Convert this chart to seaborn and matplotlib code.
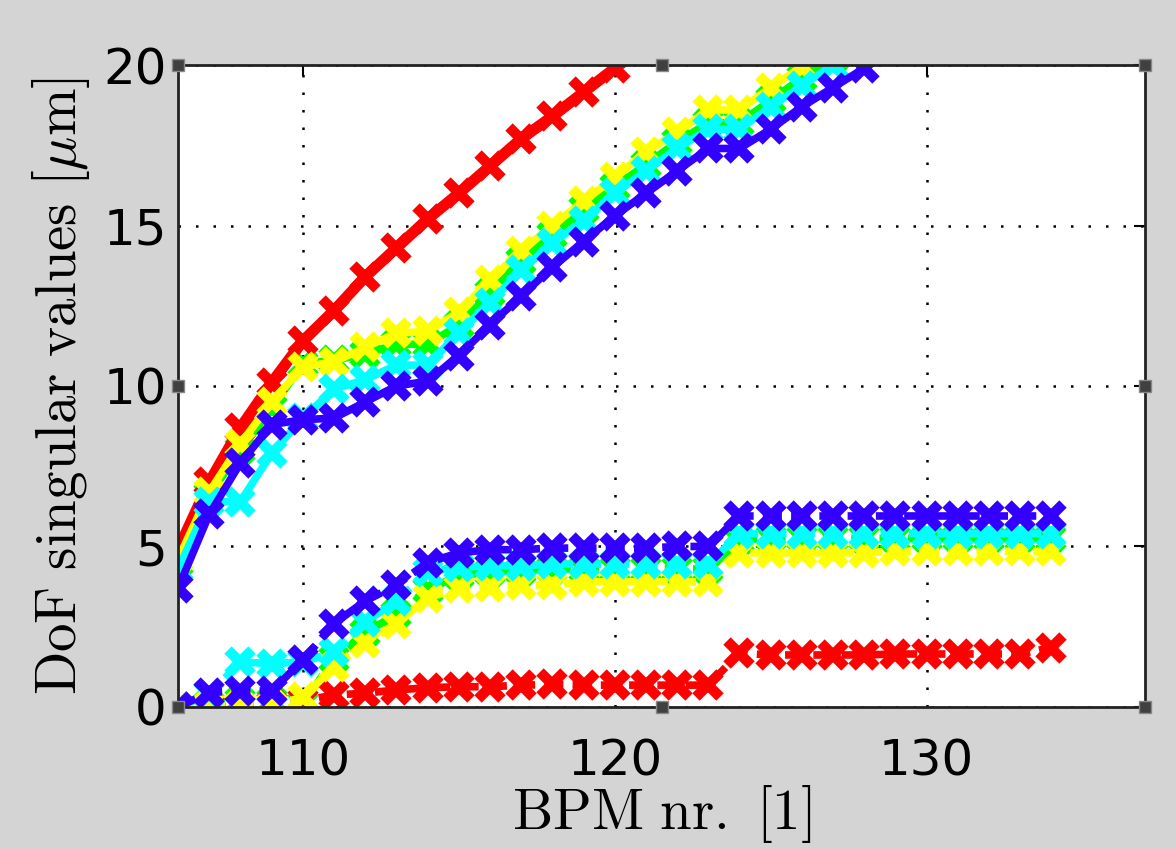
import numpy as np
import pandas as pd
import matplotlib
matplotlib.use("Agg")
import matplotlib.pyplot as plt
import seaborn as sns

sns.set_style("white")
plt.rcParams["mathtext.fontset"] = "cm"
plt.rcParams["font.family"] = ["DejaVu Sans"]

# BPM numbers
bpm = list(range(106, 135))

# upper (solid) curves, leave the view above 20
upper_red = [4.9, 7.0, 8.7, 10.1, 11.4, 12.35, 13.4, 14.3, 15.2, 16.0, 16.85, 17.7, 18.4, 19.15, 19.9, 20.6]
upper_yellow = [4.6, 6.7, 8.2, 9.5, 10.6, 10.75, 11.2, 11.65, 11.7, 12.3, 13.3, 14.2, 15.0, 15.75, 16.5, 17.3,
                17.9, 18.6, 18.6, 19.3, 19.95, 20.6]
upper_green = [4.5, 6.6, 8.0, 9.3, 10.7, 10.8, 11.0, 11.3, 11.3, 11.9, 12.9, 13.9, 14.7, 15.5, 16.2, 16.9,
               17.6, 18.2, 18.2, 18.9, 19.6, 20.2, 20.8]
upper_cyan = [4.3, 6.4, 6.4, 7.9, 9.0, 9.9, 10.2, 10.65, 10.65, 11.65, 12.6, 13.6, 14.45, 15.15, 16.0, 16.7,
              17.4, 18.0, 18.0, 18.7, 19.35, 20.0, 20.6]
upper_blue = [3.7, 6.0, 7.6, 8.8, 8.95, 9.0, 9.5, 10.0, 10.15, 10.95, 11.9, 12.8, 13.7, 14.5, 15.3, 16.0,
              16.7, 17.4, 17.4, 18.0, 18.7, 19.3, 19.9, 20.5]

# lower (dashed) curves
lower_red = [0.0, 0.0, 0.0, 0.1, 0.2, 0.37, 0.43, 0.53, 0.6, 0.63, 0.63, 0.68, 0.7, 0.68, 0.68, 0.68, 0.68, 0.68,
             1.68, 1.62, 1.62, 1.62, 1.62, 1.65, 1.65, 1.65, 1.65, 1.65, 1.85]
lower_yellow = [0.0, 0.05, 0.05, 0.05, 0.3, 1.25, 2.0, 2.6, 3.4, 3.7, 3.75, 3.8, 3.8, 3.9, 3.9, 3.9, 3.9, 3.9,
                4.8, 4.8, 4.8, 4.8, 4.8, 4.85, 4.85, 4.85, 4.85, 4.85, 4.85]
lower_green = [0.0, 0.1, 0.2, 0.2, 0.1, 1.5, 2.3, 2.9, 3.65, 4.1, 4.2, 4.25, 4.3, 4.3, 4.3, 4.3, 4.3, 4.3,
               5.2, 5.25, 5.25, 5.25, 5.25, 5.25, 5.25, 5.25, 5.25, 5.25, 5.25]
lower_cyan = [0.0, 0.4, 1.4, 1.35, 1.4, 1.7, 2.65, 3.3, 4.2, 4.35, 4.4, 4.4, 4.45, 4.45, 4.45, 4.45, 4.45, 4.45,
              5.4, 5.4, 5.4, 5.4, 5.4, 5.4, 5.4, 5.4, 5.4, 5.4, 5.4]
lower_blue = [0.0, 0.45, 0.5, 0.5, 1.45, 2.6, 3.3, 3.8, 4.5, 4.8, 4.9, 4.9, 4.95, 4.95, 4.95, 4.95, 5.0, 5.0,
              5.95, 5.95, 5.95, 5.95, 5.95, 5.95, 5.95, 5.95, 5.95, 5.95, 5.95]

colors = {"red": "#ff0000", "yellow": "#ffff00", "green": "#00ff00", "cyan": "#00ffff", "blue": "#3300ff"}
upper = {"green": upper_green, "red": upper_red, "yellow": upper_yellow, "cyan": upper_cyan, "blue": upper_blue}
lower = {"green": lower_green, "red": lower_red, "yellow": lower_yellow, "cyan": lower_cyan, "blue": lower_blue}

fig = plt.figure(figsize=(11.76, 8.49), dpi=100, facecolor="#d4d4d4")
ax = fig.add_axes([0.1514, 0.1673, 0.8222, 0.7561])
ax.set_facecolor("white")

for name, vals in upper.items():
    lw = 8 if name == "red" else 5.5
    sns.lineplot(x=bpm[:len(vals)], y=vals, ax=ax, color=colors[name], lw=lw, marker="x",
                 markersize=17, mew=7.5, mec=colors[name], estimator=None, sort=False)
for name, vals in lower.items():
    sns.lineplot(x=bpm, y=vals, ax=ax, color=colors[name], lw=5.5, marker="x", dashes=(2.5, 1.2),
                 markersize=17, mew=7.5, mec=colors[name], estimator=None, sort=False)

ax.set_xlim(106, 137)
ax.set_ylim(0, 20)
ax.set_xticks([110, 120, 130])
ax.set_yticks([0, 5, 10, 15, 20])
ax.grid(True, color="black", ls=(0, (1, 6)), lw=1.8)
ax.tick_params(direction="in", length=8, width=1.5, top=True, right=True, labelsize=36, colors="black")
ax.tick_params(axis="x", pad=22)
ax.tick_params(axis="y", pad=8)
for s in ax.spines.values():
    s.set_color("#222222")
    s.set_linewidth(2)

ax.set_xlabel(r"$\mathrm{BPM\ nr.\ [1]}$", fontsize=41, labelpad=-2, color="black")
ax.set_ylabel(r"$\mathrm{DoF\ singular\ values}\ [\mu\mathrm{m}]$", fontsize=41, labelpad=8, color="black")

# selection handles of the figure editor
hx = [0, 0.5, 1, 0, 1, 0, 0.5, 1]
hy = [1, 1, 1, 0.5, 0.5, 0, 0, 0]
ax.plot(hx, hy, ls="none", marker="s", ms=9, color="#404040", mec="#888888", mew=1,
        transform=ax.transAxes, clip_on=False, zorder=10)

fig.savefig("out.png", dpi=100, facecolor=fig.get_facecolor())
